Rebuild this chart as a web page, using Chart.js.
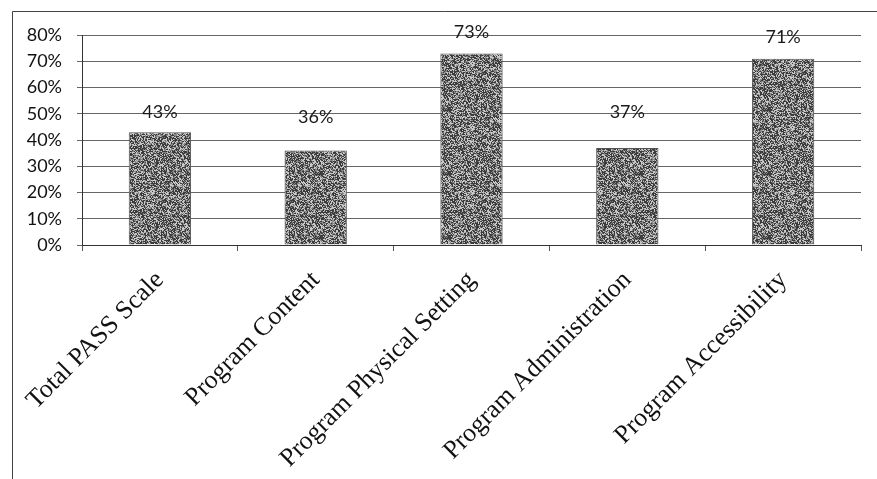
<!DOCTYPE html>
<html>
<head>
<meta charset="utf-8">
<script src="https://cdn.jsdelivr.net/npm/chart.js@4/dist/chart.umd.min.js"></script>
<style>
  html, body { margin: 0; padding: 0; background: #fff; }
  #wrap { width: 877px; height: 479px; position: relative; }
</style>
</head>
<body>
<div id="wrap"><canvas id="c" width="877" height="479"></canvas></div>
<script>
// PASS subscale scores (percent)
const categories = [
  'Total PASS Scale',
  'Program Content',
  'Program Physical Setting',
  'Program Administration',
  'Program Accessibility'
];
const scores = [43, 36, 73, 37, 71];
const yTicks = [0, 10, 20, 30, 40, 50, 60, 70, 80];

// how far each value label sits above its bar (px)
const labelRise = [20, 33, 21, 36, 21];

// grainy mid-grey fill for the bars (fixed hash, so it is the same every time)
function grainPattern() {
  const n = 64;
  const cv = document.createElement('canvas');
  cv.width = n; cv.height = n;
  const g = cv.getContext('2d');
  const img = g.createImageData(n, n);
  for (let y = 0; y < n; y++) {
    for (let x = 0; x < n; x++) {
      let h = (x * 374761393 + y * 668265263) | 0;
      h = Math.imul(h ^ (h >>> 13), 1274126177);
      h = (h ^ (h >>> 16)) >>> 0;
      const r = (h % 1000) / 1000;
      const v = r < 0.45 ? 60 : (r < 0.72 ? 135 : 200);
      const i = (y * n + x) * 4;
      img.data[i] = img.data[i + 1] = img.data[i + 2] = v;
      img.data[i + 3] = 255;
    }
  }
  g.putImageData(img, 0, 0);
  return document.getElementById('c').getContext('2d').createPattern(cv, 'repeat');
}

const frame = {
  id: 'frame',
  beforeDraw(chart) {
    const ctx = chart.ctx;
    ctx.save();
    ctx.strokeStyle = '#444';
    ctx.lineWidth = 1;
    ctx.beginPath();
    ctx.moveTo(12.5, 479);
    ctx.lineTo(12.5, 11.5);
    ctx.lineTo(877, 11.5);
    ctx.stroke();
    ctx.restore();
  }
};

const valueLabels = {
  id: 'valueLabels',
  afterDatasetsDraw(chart) {
    const ctx = chart.ctx;
    const meta = chart.getDatasetMeta(0);
    ctx.save();
    ctx.font = '18px Lato, "Open Sans", sans-serif';
    ctx.fillStyle = '#1a1a1a';
    ctx.textAlign = 'center';
    ctx.textBaseline = 'middle';
    meta.data.forEach((bar, i) => {
      ctx.fillText(scores[i] + '%', bar.x, bar.y - labelRise[i]);
    });
    ctx.restore();
  }
};

new Chart(document.getElementById('c'), {
  type: 'bar',
  data: {
    labels: categories,
    datasets: [{
      data: scores,
      backgroundColor: grainPattern(),
      borderColor: '#555',
      borderWidth: 1,
      categoryPercentage: 1,
      barPercentage: 0.4
    }]
  },
  options: {
    responsive: false,
    animation: false,
    events: [],
    layout: { padding: { left: 12, top: 35, right: 16, bottom: 0 } },
    plugins: { legend: { display: false }, tooltip: { enabled: false } },
    scales: {
      x: {
        grid: {
          offset: true,
          drawOnChartArea: false,
          drawTicks: true,
          tickLength: 6,
          color: '#555'
        },
        border: { color: '#333', width: 1 },
        ticks: {
          minRotation: 45,
          maxRotation: 45,
          padding: 14,
          autoSkip: false,
          color: '#111',
          font: { family: '"Liberation Serif", "Times New Roman", serif', size: 26 }
        },
        afterFit(s) { s.height = 234; }
      },
      y: {
        min: 0,
        max: 80,
        afterBuildTicks(s) { s.ticks = yTicks.map(v => ({ value: v })); },
        grid: { color: '#666', tickLength: 5, lineWidth: 1 },
        border: { color: '#333', width: 1 },
        ticks: {
          padding: 15,
          color: '#111',
          font: { family: 'Lato, "Open Sans", sans-serif', size: 18 },
          callback: v => v + '%'
        },
        afterFit(s) { s.width = 70; }
      }
    }
  },
  plugins: [frame, valueLabels]
});
</script>
</body>
</html>
